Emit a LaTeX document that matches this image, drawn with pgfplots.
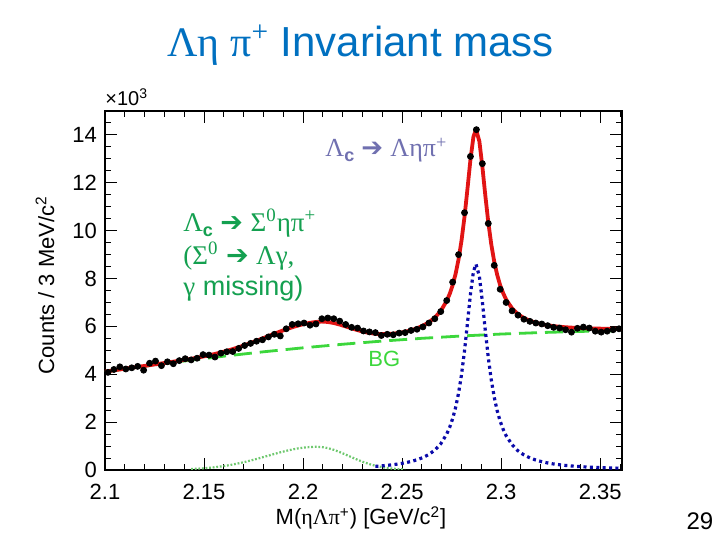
\documentclass[border=0pt]{standalone}
\usepackage{fontspec}
\setmainfont{Liberation Sans}
\newfontfamily\grk{Liberation Serif}
\newfontfamily\dv{DejaVu Sans}
\usepackage{pgfplots}
\pgfplotsset{compat=1.18}
\definecolor{titleblue}{RGB}{0,112,192}
\definecolor{annblue}{RGB}{112,112,176}
\definecolor{anngreen}{RGB}{20,160,80}
\definecolor{bggreen}{RGB}{60,215,60}
\definecolor{sigblue}{RGB}{10,10,170}
\definecolor{fitred}{RGB}{225,20,20}
\definecolor{dotgreen}{RGB}{110,200,110}
\newcommand{\arr}{{\dv ➔}}
\newcommand{\subc}{\raisebox{-0.3ex}{\fontsize{9}{10}\selectfont\bfseries c}}
\begin{document}
\begin{tikzpicture}
\fill[white] (0pt,0pt) rectangle (360pt,270pt);
\begin{axis}[
  at={(52.5pt,35pt)}, anchor=south west,
  scale only axis, width=258.5pt, height=179.5pt,
  xmin=2.1, xmax=2.361, ymin=0, ymax=15,
  xtick={2.1,2.15,2.2,2.25,2.3,2.35},
  xticklabels={2.1,2.15,2.2,2.25,2.3,2.35},
  minor xtick={2.11,2.12,2.13,2.14,2.16,2.17,2.18,2.19,2.21,2.22,2.23,2.24,2.26,2.27,2.28,2.29,2.31,2.32,2.33,2.34,2.36},
  ytick={0,2,4,6,8,10,12,14},
  yticklabels={0,2,4,6,8,10,12,14},
  minor ytick={0.5,1,1.5,2.5,3,3.5,4.5,5,5.5,6.5,7,7.5,8.5,9,9.5,10.5,11,11.5,12.5,13,13.5,14.5},
  tick align=inside,
  major tick length=6pt, minor tick length=3pt,
  axis line style={line width=0.6pt},
  every tick/.style={black, line width=0.5pt},
  tick label style={font=\fontsize{11}{13}\selectfont},
  xticklabel style={yshift=-3.5pt},
  yticklabel style={xshift=-0.5pt},
  clip=true,
]
% background (green dashed)
\addplot[bggreen, line width=1.4pt, dash pattern=on 9pt off 4pt] coordinates {
(2.100,4.100) (2.120,4.335) (2.140,4.554) (2.160,4.755) (2.180,4.938) (2.200,5.105)
(2.220,5.254) (2.240,5.387) (2.260,5.502) (2.280,5.599) (2.300,5.680) (2.320,5.743)
(2.340,5.790) (2.361,5.820)};
% Sigma0 eta pi component (green dotted)
\addplot[dotgreen, line width=1.1pt, dash pattern=on 0.9pt off 0.9pt] coordinates {
(2.1435,.0385) (2.1465,.0519) (2.1495,.0689) (2.1525,.0901) (2.1555,.1162) (2.1585,.1477)
(2.1615,.1852) (2.1645,.2286) (2.1675,.2784) (2.1705,.3342) (2.1735,.3953) (2.1765,.4609)
(2.1795,.5296) (2.1825,.6001) (2.1855,.6702) (2.1885,.7377) (2.1915,.8003) (2.1945,.8560)
(2.1975,.9024) (2.2005,.9378) (2.2035,.9605) (2.2065,.9700) (2.2095,.9582) (2.2125,.9143)
(2.2155,.8423) (2.2185,.7492) (2.2215,.6433) (2.2245,.5334) (2.2275,.4270) (2.2305,.3298)
(2.2335,.2462) (2.2365,.1772) (2.2395,.1233) (2.2425,.0828) (2.2455,.0536) (2.2485,.0335)
(2.2515,.0203)};
% signal (blue dotted)
\addplot[sigblue, line width=1.6pt, dash pattern=on 1.5pt off 1.7pt] coordinates {
(2.2365,.151) (2.2395,.171) (2.2425,.194) (2.2455,.222) (2.2485,.256) (2.2515,.299)
(2.2545,.354) (2.2575,.426) (2.2605,.520) (2.2635,.649) (2.2665,.830) (2.2695,1.095)
(2.2725,1.499) (2.2740,1.782) (2.2755,2.144) (2.2770,2.611) (2.2785,3.215) (2.2800,3.995)
(2.2815,4.978) (2.2830,6.143) (2.2845,7.353) (2.2860,8.297) (2.2873,8.600) (2.2890,8.094)
(2.2905,7.040) (2.2920,5.819) (2.2935,4.696) (2.2950,3.769) (2.2965,3.039) (2.2980,2.474)
(2.2995,2.038) (2.3010,1.700) (2.3025,1.434) (2.3055,1.054) (2.3085,.802) (2.3115,.629)
(2.3145,.506) (2.3175,.415) (2.3205,.346) (2.3235,.293) (2.3265,.251) (2.3295,.218)
(2.3325,.190) (2.3355,.168) (2.3385,.149) (2.3415,.133) (2.3445,.120) (2.3475,.108)
(2.3505,.098) (2.3535,.090) (2.3565,.082) (2.3610,.073)};
% data
\addplot[only marks, mark=*, mark size=1.5pt, black] coordinates {
(2.1015,4.08) (2.1045,4.20) (2.1075,4.31) (2.1105,4.22) (2.1135,4.27) (2.1165,4.33)
(2.1195,4.17) (2.1225,4.46) (2.1255,4.55) (2.1285,4.36) (2.1315,4.52) (2.1345,4.44)
(2.1375,4.57) (2.1405,4.65) (2.1435,4.60) (2.1465,4.67) (2.1495,4.82) (2.1525,4.80)
(2.1555,4.72) (2.1585,4.88) (2.1615,4.94) (2.1645,4.95) (2.1675,5.08) (2.1705,5.20)
(2.1735,5.29) (2.1765,5.38) (2.1795,5.44) (2.1825,5.56) (2.1855,5.67) (2.1885,5.60)
(2.1915,5.90) (2.1945,6.08) (2.1975,6.11) (2.2005,6.14) (2.2035,6.05) (2.2065,6.10)
(2.2095,6.32) (2.2125,6.35) (2.2155,6.32) (2.2185,6.22) (2.2215,6.08) (2.2245,5.96)
(2.2275,5.93) (2.2305,5.81) (2.2335,5.77) (2.2365,5.74) (2.2395,5.62) (2.2425,5.67)
(2.2455,5.65) (2.2485,5.72) (2.2515,5.74) (2.2545,5.83) (2.2575,5.88) (2.2605,5.98)
(2.2635,6.14) (2.2665,6.32) (2.2695,6.62) (2.2725,7.08) (2.2755,7.85) (2.2785,9.00)
(2.2815,10.75) (2.2845,13.10) (2.2875,14.22) (2.2905,12.80) (2.2935,10.30) (2.2965,8.55)
(2.2995,7.55) (2.3025,7.00) (2.3055,6.65) (2.3085,6.47) (2.3115,6.30) (2.3145,6.21)
(2.3175,6.14) (2.3205,6.10) (2.3235,6.03) (2.3265,5.96) (2.3295,5.93) (2.3325,5.86)
(2.3355,5.76) (2.3385,5.92) (2.3415,5.97) (2.3445,5.93) (2.3475,5.80) (2.3505,5.76)
(2.3535,5.80) (2.3565,5.86) (2.3595,5.90)};
% total fit (red)
\addplot[fitred, line width=1.9pt, line join=round] coordinates {
(2.1000,4.111) (2.1015,4.129) (2.1045,4.166) (2.1075,4.202) (2.1105,4.238) (2.1135,4.273)
(2.1165,4.308) (2.1195,4.343) (2.1225,4.378) (2.1255,4.417) (2.1285,4.452) (2.1315,4.489)
(2.1345,4.526) (2.1375,4.565) (2.1405,4.605) (2.1435,4.647) (2.1465,4.692) (2.1495,4.740)
(2.1525,4.792) (2.1555,4.849) (2.1585,4.911) (2.1615,4.978) (2.1645,5.051) (2.1675,5.130)
(2.1705,5.215) (2.1735,5.305) (2.1765,5.399) (2.1795,5.496) (2.1825,5.595) (2.1855,5.693)
(2.1885,5.788) (2.1915,5.880) (2.1945,5.963) (2.1975,6.037) (2.2005,6.099) (2.2035,6.149)
(2.2065,6.186) (2.2095,6.202) (2.2125,6.185) (2.2155,6.141) (2.2185,6.076) (2.2215,5.999)
(2.2245,5.919) (2.2275,5.843) (2.2305,5.778) (2.2335,5.727) (2.2365,5.693) (2.2395,5.678)
(2.2425,5.679) (2.2455,5.696) (2.2485,5.727) (2.2515,5.774) (2.2545,5.838) (2.2575,5.921)
(2.2605,6.028) (2.2635,6.171) (2.2665,6.365) (2.2695,6.645) (2.2725,7.064) (2.2740,7.353)
(2.2755,7.723) (2.2770,8.195) (2.2785,8.808) (2.2800,9.593) (2.2815,10.584) (2.2830,11.754)
(2.2845,12.972) (2.2860,13.921) (2.2873,14.230) (2.2890,13.732) (2.2905,12.684) (2.2920,11.470)
(2.2935,10.352) (2.2950,9.433) (2.2965,8.706) (2.2980,8.152) (2.2995,7.716) (2.3010,7.391)
(2.3025,7.123) (2.3055,6.753) (2.3085,6.511) (2.3115,6.348) (2.3145,6.234) (2.3175,6.151)
(2.3205,6.091) (2.3235,6.046) (2.3265,6.011) (2.3295,5.986) (2.3325,5.964) (2.3355,5.949)
(2.3385,5.936) (2.3415,5.925) (2.3445,5.918) (2.3475,5.911) (2.3505,5.905) (2.3535,5.901)
(2.3565,5.897) (2.3595,5.894) (2.3610,5.893)};
\end{axis}
% title
\node[titleblue, anchor=base west, font=\fontsize{21}{25}\selectfont, inner sep=0pt] at (83.5pt,241.5pt)
  {{\grk Λη π\textsuperscript{+}} Invariant mass};
% x10^3
\node[anchor=base west, font=\fontsize{10}{12}\selectfont, inner sep=0pt] at (52.5pt,217pt) {×10\textsuperscript{3}};
% annotations
\node[annblue, anchor=base west, font=\fontsize{13}{15}\selectfont, inner sep=0pt] at (162.5pt,191.5pt)
  {{\grk Λ}\subc{} \arr{} {\grk Ληπ\textsuperscript{+}}};
\node[anngreen, anchor=base west, font=\fontsize{13.5}{16}\selectfont, inner sep=0pt] at (91.5pt,154pt)
  {{\grk Λ}\subc{} \arr{} {\grk Σ\textsuperscript{0}ηπ\textsuperscript{+}}};
\node[anngreen, anchor=base west, font=\fontsize{13.5}{16}\selectfont, inner sep=0pt] at (91.5pt,137.5pt)
  {{\grk (Σ\textsuperscript{0}} \arr{} {\grk Λγ,}};
\node[anngreen, anchor=base west, font=\fontsize{13.5}{16}\selectfont, inner sep=0pt] at (91.5pt,122pt)
  {{\grk γ} missing)};
\node[bggreen, anchor=base west, font=\fontsize{11}{13}\selectfont, inner sep=0pt] at (184pt,86.5pt) {BG};
% axis labels
\node[rotate=90, font=\fontsize{11}{13}\selectfont] at (22.5pt,127.5pt) {Counts / 3 MeV/c\textsuperscript{2}};
\node[font=\fontsize{11}{13}\selectfont] at (180.5pt,11pt) {M({\grk ηΛπ}\textsuperscript{+}) [GeV/c\textsuperscript{2}]};
% page number
\node[font=\fontsize{12}{14}\selectfont] at (350pt,9.5pt) {29};
\end{tikzpicture}
\end{document}
